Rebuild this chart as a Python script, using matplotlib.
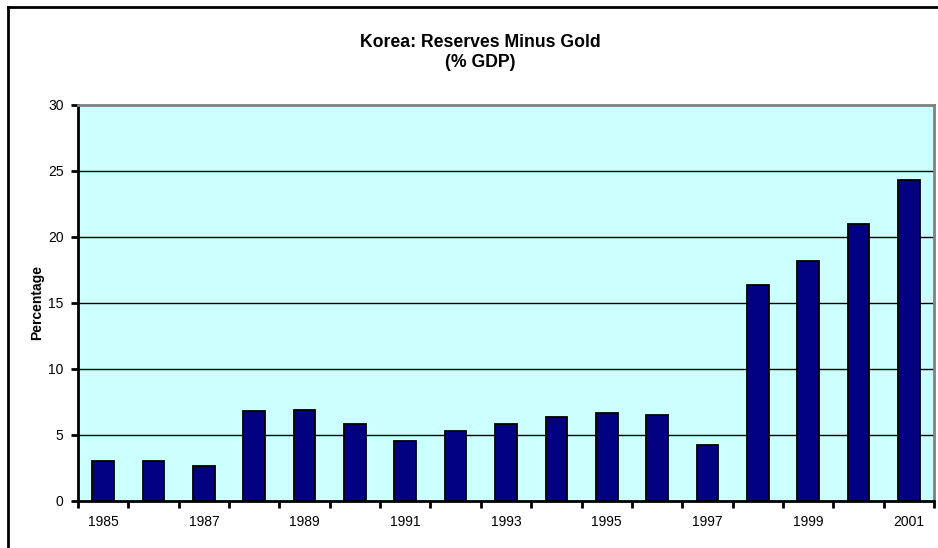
import matplotlib
matplotlib.use("Agg")
import matplotlib.pyplot as plt
from matplotlib.lines import Line2D
import numpy as np

years = list(range(1985, 2002))
values = [3.0, 3.0, 2.6, 6.8, 6.85, 5.8, 4.55, 5.3, 5.8, 6.35, 6.65, 6.5, 4.2, 16.35, 18.15, 20.95, 24.3]
yticks = [0, 5, 10, 15, 20, 25, 30]
title = "Korea: Reserves Minus Gold\n(% GDP)"
ylabel = "Percentage"

plt.rcParams['font.family'] = ['Liberation Sans', 'DejaVu Sans']

fig = plt.figure(figsize=(9.38, 5.48), dpi=100)
W, H = 938, 548
ax = fig.add_axes([78 / W, (H - 500.7) / H, 856 / W, (500.7 - 105) / H])
ax.set_facecolor('#CCFFFF')

x = np.arange(len(years))
ax.bar(x, values, width=0.43, color='#000080', edgecolor='black', linewidth=1.3, zorder=3)

ax.set_xlim(-0.5, len(years) - 0.5)
ax.set_ylim(0, 30)
ax.set_yticks(yticks)
ax.set_yticklabels([str(v) for v in yticks], fontsize=10)
for v in yticks[1:-1]:
    ax.axhline(v, color='black', linewidth=1, zorder=1)

major = [i for i, y in enumerate(years) if (y - years[0]) % 2 == 0]
ax.set_xticks(major)
ax.set_xticklabels([str(years[i]) for i in major], fontsize=10)
ax.tick_params(axis='x', which='major', length=0, pad=10)
ax.set_xticks(np.arange(-0.5, len(years)), minor=True)
ax.tick_params(axis='x', which='minor', length=5, width=2, direction='out', color='black')
ax.tick_params(axis='y', length=5, width=2, direction='out', pad=5.5)

for s in ['left', 'bottom']:
    ax.spines[s].set_color('black')
    ax.spines[s].set_linewidth(2)
for s in ['top', 'right']:
    ax.spines[s].set_color('#808080')
    ax.spines[s].set_linewidth(2)

ax.set_ylabel(ylabel, fontsize=10, fontweight='bold')
ax.yaxis.set_label_coords((37.5 - 78) / 856, 0.5)
ax.yaxis.label.set_va('center')
fig.text(480 / W, 1 - 52.5 / H, title, ha='center', va='center',
         fontsize=12.7, fontweight='bold', linespacing=1.2)

# outer frame (left and top only visible)
fig.add_artist(Line2D([7.5 / W, 7.5 / W], [0, 1 - 6.5 / H], transform=fig.transFigure, color='black', linewidth=2))
fig.add_artist(Line2D([7.5 / W, 1], [1 - 6.5 / H, 1 - 6.5 / H], transform=fig.transFigure, color='black', linewidth=2))

fig.savefig("out.png", dpi=100)
